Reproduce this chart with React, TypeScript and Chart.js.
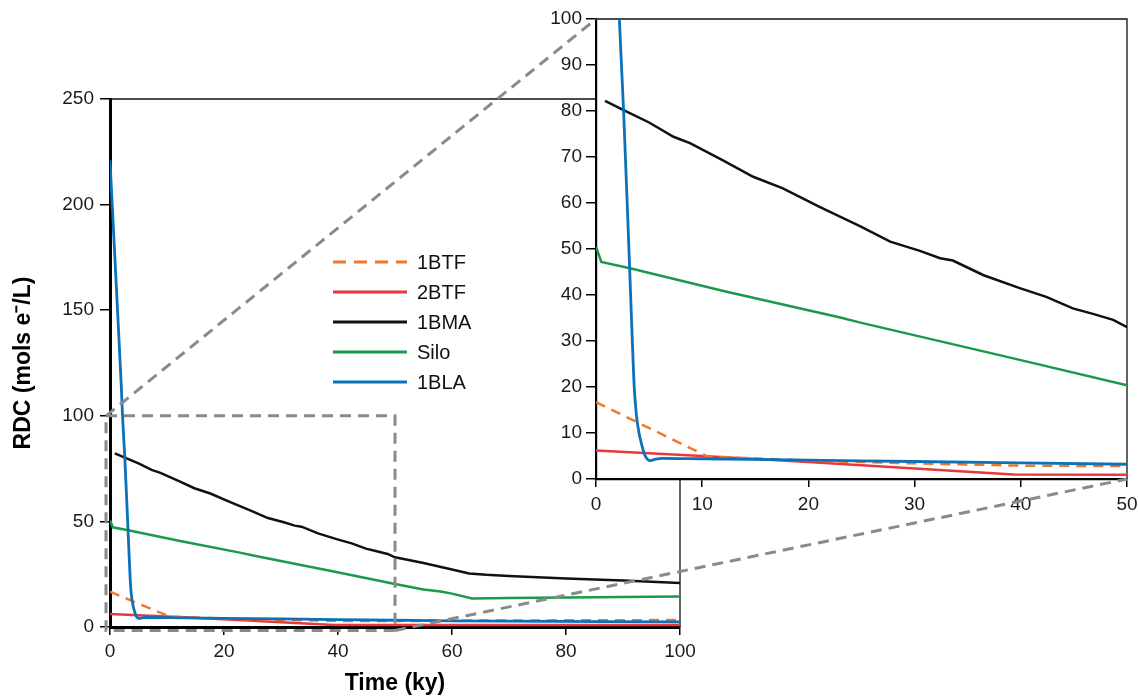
import React, { useEffect, useRef } from "react";
import { Chart, registerables } from "chart.js";

Chart.register(...registerables);

// ---------- data ----------
const seriesLabels = ["1BTF", "2BTF", "1BMA", "Silo", "1BLA"];

const btf1Time = [0, 10.5, 20, 30, 40, 50, 60, 100];
const btf1Rdc = [16.7, 4.9, 4.0, 3.4, 2.9, 2.8, 3.0, 3.3];

const btf2Time = [0, 10, 20, 30, 39.3, 50, 100];
const btf2Rdc = [6.2, 5.0, 3.7, 2.3, 1.0, 0.9, 1.0];

const bma1Time = [0.85, 2.6, 5, 7.3, 8.85, 12, 14.8, 17.6, 21, 24.9, 27.7, 30.5, 32.4, 33.6, 36.5, 39.9, 42.4, 44.9, 46.8, 48.7, 50, 55, 60, 63, 66, 70, 80, 90, 100];
const bma1Rdc = [82.2, 80.2, 77.5, 74.4, 73, 69.2, 65.7, 63.2, 59.2, 54.9, 51.6, 49.6, 48, 47.5, 44.3, 41.5, 39.6, 37.1, 35.9, 34.6, 33, 30.3, 27.2, 25.3, 24.7, 24.2, 23, 22, 20.8];

const siloTime = [0, 0.5, 3.2, 12.3, 23, 24.9, 39.9, 50, 55, 58, 60, 63.5, 70, 85, 100];
const siloRdc = [50.5, 47.2, 45.8, 40.7, 35.1, 34, 25.9, 20.4, 17.8, 16.8, 15.8, 13.5, 13.7, 14.1, 14.5];

const bla1Time = [0, 1, 2, 2.2, 2.6, 3.1, 3.42, 3.6, 3.8, 4.05, 4.3, 4.6, 5.1, 5.6, 6.2, 10, 20, 30, 40, 50, 60, 100];
const bla1Rdc = [221, 167, 113, 100, 80, 50, 30, 20, 14, 10, 7.5, 5.2, 4.0, 4.3, 4.5, 4.4, 4.1, 3.8, 3.5, 3.2, 2.9, 2.4];

const mainXTicks = [0, 20, 40, 60, 80, 100];
const mainYTicks = [0, 50, 100, 150, 200, 250];
const insetXTicks = [0, 10, 20, 30, 40, 50];
const insetYTicks = [0, 10, 20, 30, 40, 50, 60, 70, 80, 90, 100];

const zoomXRange = [0, 50];
const zoomYRange = [0, 100];

// ---------- styles ----------
const W = 1138;
const H = 698;
const FONT = "'Liberation Sans', Arial, Helvetica, sans-serif";
const colors = ["#F0782A", "#E8383D", "#111111", "#1A9A48", "#0B72B9"];
const dashes = [[10, 7], [], [], [], []];
const widths = [2.5, 2.5, 2.5, 2.5, 2.8];
const orders = [1, 2, 3, 4, 0];
const GRAY = "#8a8a8a";

const zip = (xs: number[], ys: number[]) => xs.map((x, i) => ({ x, y: ys[i] }));

const seriesData = [
  zip(btf1Time, btf1Rdc),
  zip(btf2Time, btf2Rdc),
  zip(bma1Time, bma1Rdc),
  zip(siloTime, siloRdc),
  zip(bla1Time, bla1Rdc),
];

const makeDatasets = () =>
  seriesLabels.map((label, i) => ({
    label,
    data: seriesData[i],
    borderColor: colors[i],
    backgroundColor: colors[i],
    borderDash: dashes[i],
    borderWidth: widths[i],
    pointRadius: 0,
    pointHoverRadius: 0,
    fill: false,
    tension: 0,
    cubicInterpolationMode: label === "1BLA" ? "monotone" : "default",
    order: orders[i],
  }));

const tickFont = { family: FONT, size: 19 };

const setTicks = (vals: number[]) => (scale: any) => {
  scale.ticks = vals.map((v) => ({ value: v }));
};

const fixHeight = (h: number) => (s: any) => {
  s.height = h;
  s.paddingLeft = 0;
  s.paddingRight = 0;
  s.paddingTop = 0;
  s.paddingBottom = 0;
};
const fixWidth = (w: number) => (s: any) => {
  s.width = w;
  s.paddingLeft = 0;
  s.paddingRight = 0;
  s.paddingTop = 0;
  s.paddingBottom = 0;
};

const framePlugin = (lineWidth: number) => ({
  id: "frame",
  beforeDatasetsDraw(chart: any) {
    const { ctx, chartArea } = chart;
    ctx.save();
    ctx.strokeStyle = "#111";
    ctx.lineWidth = lineWidth;
    ctx.beginPath();
    ctx.moveTo(chartArea.left, chartArea.top);
    ctx.lineTo(chartArea.right, chartArea.top);
    ctx.lineTo(chartArea.right, chartArea.bottom);
    ctx.stroke();
    ctx.restore();
  },
});

const legendPlugin = {
  id: "customLegend",
  afterDraw(chart: any) {
    const { ctx } = chart;
    const x0 = 333;
    const y0 = 262;
    const lineLen = 74;
    const rowH = 30;
    ctx.save();
    chart.data.datasets.forEach((ds: any, i: number) => {
      const y = y0 + i * rowH;
      ctx.strokeStyle = ds.borderColor;
      ctx.lineWidth = 3;
      ctx.setLineDash(ds.borderDash && ds.borderDash.length ? [13, 8] : []);
      ctx.beginPath();
      ctx.moveTo(x0, y);
      ctx.lineTo(x0 + lineLen, y);
      ctx.stroke();
      ctx.setLineDash([]);
      ctx.fillStyle = "#111";
      ctx.font = `20px ${FONT}`;
      ctx.textBaseline = "middle";
      ctx.textAlign = "left";
      ctx.fillText(ds.label, x0 + lineLen + 10, y + 1);
    });
    ctx.restore();
  },
};

export default function App() {
  const mainRef = useRef<HTMLCanvasElement | null>(null);
  const insetRef = useRef<HTMLCanvasElement | null>(null);

  useEffect(() => {
    if (!mainRef.current || !insetRef.current) return;

    const main = new Chart(mainRef.current, {
      type: "line",
      data: { datasets: makeDatasets() as any },
      options: {
        animation: false,
        responsive: false,
        events: [],
        layout: { padding: { left: 0, top: 99, right: 458, bottom: 0 } },
        plugins: { legend: { display: false }, tooltip: { enabled: false } },
        scales: {
          x: {
            type: "linear",
            min: 0,
            max: 100,
            afterFit: fixHeight(71),
            afterBuildTicks: setTicks(mainXTicks),
            border: { display: true, color: "#000", width: 3 },
            grid: { drawOnChartArea: false, drawTicks: true, tickLength: 8, color: "#000", lineWidth: 1.5 },
            ticks: { font: tickFont, color: "#1a1a1a", padding: 5, maxRotation: 0 },
            title: {
              display: true,
              text: "Time (ky)",
              font: { family: FONT, size: 23, weight: "bold" },
              color: "#000",
              padding: { top: 0, bottom: 1 },
            },
          },
          y: {
            type: "linear",
            min: 0,
            max: 250,
            afterFit: fixWidth(110),
            afterBuildTicks: setTicks(mainYTicks),
            border: { display: true, color: "#000", width: 3 },
            grid: { drawOnChartArea: false, drawTicks: true, tickLength: 10, color: "#000", lineWidth: 1.5 },
            ticks: { font: tickFont, color: "#1a1a1a", padding: 6 },
            title: {
              display: true,
              text: "RDC (mols e\u207B/L)",
              font: { family: FONT, size: 23, weight: "bold" },
              color: "#000",
              padding: { top: 10, bottom: 0 },
            },
          },
        },
      },
      plugins: [framePlugin(1.3), legendPlugin],
    });

    const connectorPlugin = {
      id: "connectors",
      afterDraw(chart: any) {
        const { ctx } = chart;
        const mx = main.scales.x;
        const my = main.scales.y;
        const ix = chart.scales.x;
        const iy = chart.scales.y;
        const left = mx.getPixelForValue(zoomXRange[0]) - 4;
        const right = mx.getPixelForValue(zoomXRange[1]);
        const top = my.getPixelForValue(zoomYRange[1]);
        const bottom = my.getPixelForValue(zoomYRange[0]) + 3.5;
        ctx.save();
        ctx.strokeStyle = GRAY;
        ctx.lineWidth = 3;
        ctx.setLineDash([11, 7]);
        ctx.beginPath();
        ctx.rect(left, top, right - left, bottom - top);
        ctx.stroke();
        ctx.beginPath();
        ctx.moveTo(left, top);
        ctx.lineTo(ix.getPixelForValue(zoomXRange[0]), iy.getPixelForValue(zoomYRange[1]));
        ctx.stroke();
        ctx.beginPath();
        ctx.moveTo(right, bottom);
        ctx.lineTo(ix.getPixelForValue(zoomXRange[1]), iy.getPixelForValue(zoomYRange[0]));
        ctx.stroke();
        ctx.restore();
      },
    };

    const bgPlugin = {
      id: "insetBg",
      beforeDraw(chart: any) {
        const { ctx, chartArea } = chart;
        ctx.save();
        ctx.fillStyle = "#fff";
        ctx.fillRect(chartArea.left, chartArea.top, chartArea.right - chartArea.left, chartArea.bottom - chartArea.top);
        ctx.restore();
      },
    };

    const inset = new Chart(insetRef.current, {
      type: "line",
      data: { datasets: makeDatasets() as any },
      options: {
        animation: false,
        responsive: false,
        events: [],
        layout: { padding: { left: 496, top: 19, right: 11, bottom: 179 } },
        plugins: { legend: { display: false }, tooltip: { enabled: false } },
        scales: {
          x: {
            type: "linear",
            min: zoomXRange[0],
            max: zoomXRange[1],
            afterFit: fixHeight(40),
            afterBuildTicks: setTicks(insetXTicks),
            border: { display: true, color: "#000", width: 2.2 },
            grid: { drawOnChartArea: false, drawTicks: true, tickLength: 8, color: "#000", lineWidth: 1.5 },
            ticks: { font: tickFont, color: "#1a1a1a", padding: 6, maxRotation: 0 },
          },
          y: {
            type: "linear",
            min: zoomYRange[0],
            max: zoomYRange[1],
            afterFit: fixWidth(100),
            afterBuildTicks: setTicks(insetYTicks),
            border: { display: true, color: "#000", width: 2.2 },
            grid: { drawOnChartArea: false, drawTicks: true, tickLength: 10, color: "#000", lineWidth: 1.5 },
            ticks: { font: tickFont, color: "#1a1a1a", padding: 4 },
          },
        },
      },
      plugins: [bgPlugin, framePlugin(1.3), connectorPlugin],
    });

    return () => {
      inset.destroy();
      main.destroy();
    };
  }, []);

  return (
    <div style={{ position: "absolute", left: 0, top: 0, width: W, height: H, background: "#fff" }}>
      <canvas ref={mainRef} width={W} height={H} style={{ position: "absolute", left: 0, top: 0 }} />
      <canvas ref={insetRef} width={W} height={H} style={{ position: "absolute", left: 0, top: 0 }} />
    </div>
  );
}
